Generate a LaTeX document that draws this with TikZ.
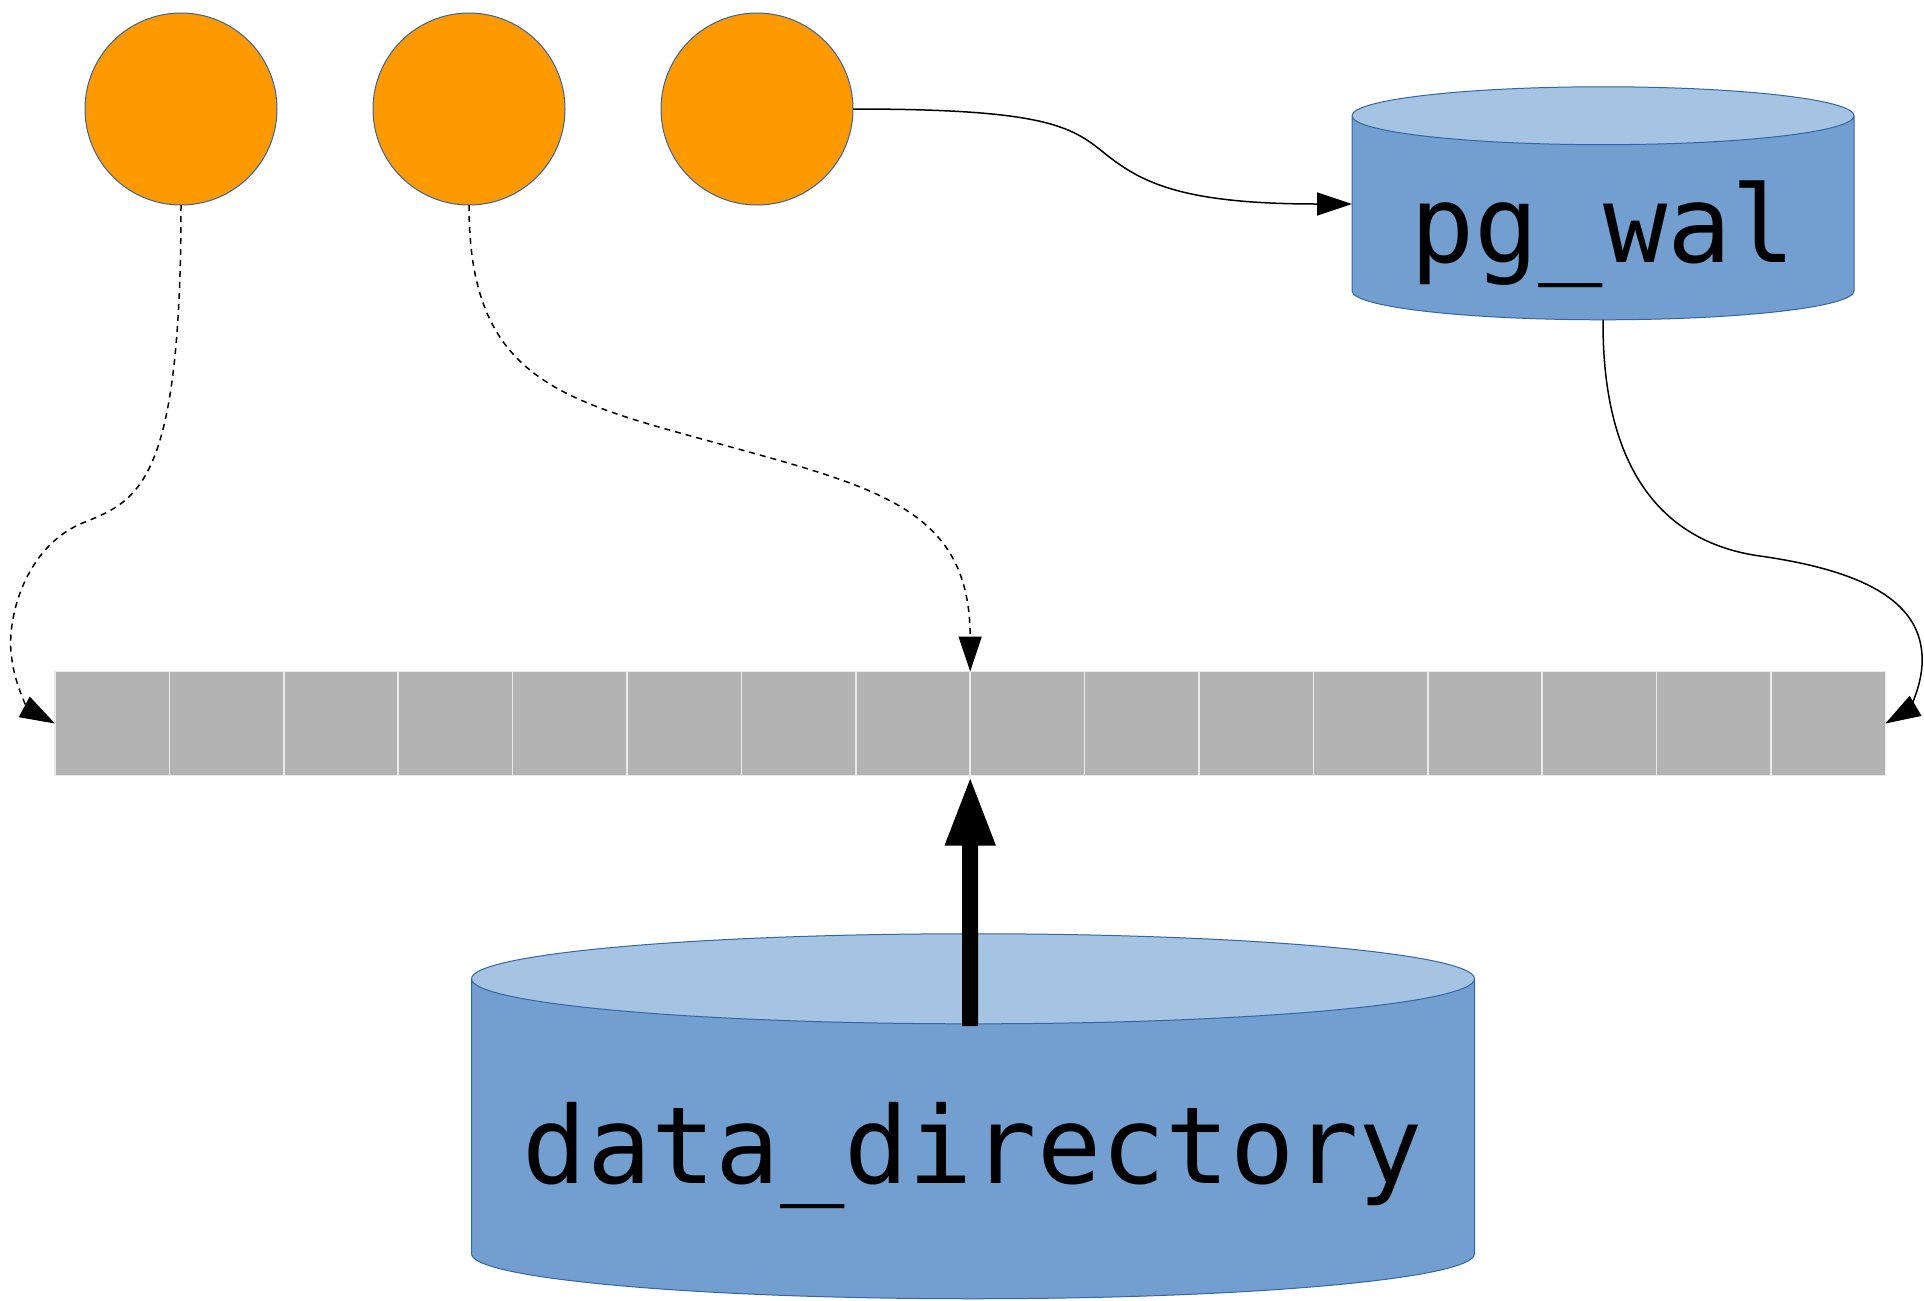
\documentclass[tikz,border=0pt]{standalone}
\usepackage{fontspec}
\setmonofont{DejaVu Sans Mono}
\usetikzlibrary{arrows.meta, shapes.geometric}
\definecolor{procfill}{HTML}{FF9900}
\definecolor{shapeline}{HTML}{3465A4}
\definecolor{diskbody}{HTML}{729FCF}
\definecolor{disktop}{HTML}{A5C3E3}
\definecolor{pagefill}{HTML}{B3B3B3}
\newcommand{\disklabel}[1]{\raisebox{-1.6mm}[\height][\depth]{#1}}

\begin{document}
\begin{tikzpicture}[x=0.1mm, y=-0.1mm,
    proc/.style={circle, fill=procfill, draw=shapeline, line width=0.1mm,
        minimum size=19.2mm, inner sep=0pt, outer sep=0pt},
    disk/.style={cylinder, shape border rotate=90, draw=shapeline, line width=0.1mm,
        cylinder uses custom fill, cylinder body fill=diskbody, cylinder end fill=disktop,
        inner sep=0pt, outer sep=0pt, font=\ttfamily\fontsize{30.4}{36}\selectfont},
    page/.style={rectangle, fill=pagefill, draw=black!8, line width=0.15mm,
        minimum width=11.44mm, minimum height=10.4mm, inner sep=0pt, outer sep=0pt},
    link/.style={line width=0.15mm, -{Triangle[length=3.5mm, width=2.3mm]}},
    lookup/.style={link, dash pattern=on 0.6mm off 0.5mm},
    feed/.style={line width=1.6mm, -{Triangle[length=7mm, width=4.6mm]}}]
    \fill[white] (0,0) rectangle (1924,1300);
    \useasboundingbox (0,0) rectangle (1924,1300);

    % backends
    \node[proc] (p1) at (181,109) {};
    \node[proc] (p2) at (469,109) {};
    \node[proc] (p3) at (757,109) {};

    % disks
    \node[disk, minimum width=50.2mm, minimum height=23.3mm, aspect=0.150] (wal) at (1603,218) {\disklabel{pg\_wal}};
    \node[disk, minimum width=100.3mm, minimum height=36.5mm, aspect=0.1] (data) at (973,1139) {\disklabel{data\_directory}};

    % shared buffers
    \foreach \i in {1,...,16}
        \node[page] (c\i) at ({55+(\i-0.5)*114.4},723.5) {};

    \draw[lookup] (p1.south) .. controls (181,480) and (140,500) .. (85,522)
        .. controls (25,545) and (5,620) .. (12,660)
        .. controls (16,690) and (30,710) .. (c1.west);
    \draw[lookup] (p2.south) .. controls (469,380) and (560,400) .. (720,444)
        .. controls (880,488) and (970,510) .. (c8.north east);
    \draw[link] (p3.east) .. controls (1040,109) and (1070,125) .. (1103,152)
        .. controls (1140,182) and (1180,204) .. ([yshift=1.4mm]wal.west);
    \draw[link] (wal.south) .. controls (1602,490) and (1680,545) .. (1760,556)
        .. controls (1880,573) and (1925,610) .. (1922,665)
        .. controls (1920,695) and (1905,712) .. (c16.east);

    \coordinate (dtop) at (970.2,1026);
    \draw[feed] (dtop) -- (c8.south east);
\end{tikzpicture}
\end{document}
